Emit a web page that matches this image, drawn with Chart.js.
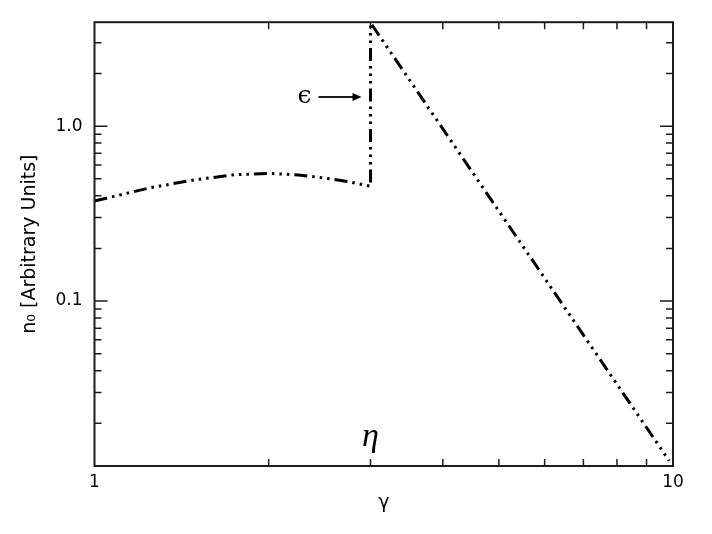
<!DOCTYPE html>
<html lang="en">
<head>
<meta charset="UTF-8">
<title>n0 vs gamma</title>
<script src="https://cdn.jsdelivr.net/npm/chart.js"></script>
<style>
  html, body { margin: 0; padding: 0; background: #fff; }
  #wrap { width: 712px; height: 534px; }
</style>
</head>
<body>
<div id="wrap"><canvas id="chart"></canvas></div>
<script>
// values (gamma, n0)
const gammaVals = [1, 1.25, 1.5, 1.75, 2, 2.25, 2.5, 2.75, 3, 3, 9.85];
const n0Vals = [0.373, 0.445, 0.495, 0.528, 0.537, 0.526, 0.505, 0.481, 0.453, 3.9, 0.0122];
const xTicks = [1, 2, 3, 4, 5, 6, 7, 8, 9, 10];
const yTicks = [0.02, 0.03, 0.04, 0.05, 0.06, 0.07, 0.08, 0.09,
                0.1, 0.2, 0.3, 0.4, 0.5, 0.6, 0.7, 0.8, 0.9, 1, 2, 3];
const xTickLabels = [1, 10];
const yTickLabels = [0.1, 1];
const xRange = [1, 10];
const yRange = [0.0114, 3.93];

const points = gammaVals.map((g, i) => ({ x: g, y: n0Vals[i] }));
const near = (a, b) => Math.abs(a - b) < 1e-9 * Math.max(1, Math.abs(b));
const majorTick = v => Math.abs(Math.log10(v) - Math.round(Math.log10(v))) < 1e-6;

// box, inward ticks on all four sides, and the two labels
const framePlugin = {
    id: 'framePlugin',
    afterDatasetsDraw(chart) {
        const { ctx, chartArea: a, scales: { x, y } } = chart;
        ctx.save();
        ctx.strokeStyle = '#1c1c1c';
        ctx.lineWidth = 1.5;
        ctx.beginPath();
        x.ticks.forEach(t => {
            if (t.value <= x.min || t.value >= x.max) return;
            const px = x.getPixelForValue(t.value);
            const len = majorTick(t.value) ? 13 : 7;
            ctx.moveTo(px, a.bottom); ctx.lineTo(px, a.bottom - len);
            ctx.moveTo(px, a.top); ctx.lineTo(px, a.top + len);
        });
        y.ticks.forEach(t => {
            if (t.value <= y.min || t.value >= y.max) return;
            const py = y.getPixelForValue(t.value);
            const len = majorTick(t.value) ? 13 : 7;
            ctx.moveTo(a.left, py); ctx.lineTo(a.left + len, py);
            ctx.moveTo(a.right, py); ctx.lineTo(a.right - len, py);
        });
        ctx.stroke();
        ctx.lineWidth = 2;
        ctx.strokeRect(a.left, a.top, a.right - a.left, a.bottom - a.top);

        // annotations near the jump at gamma = 3
        const x3 = x.getPixelForValue(3);
        ctx.fillStyle = '#000';
        ctx.textAlign = 'center';
        ctx.textBaseline = 'alphabetic';
        ctx.font = 'italic 34px "Liberation Serif"';
        ctx.fillText('η', x3, 446);

        const ay = y.getPixelForValue(1.47);
        ctx.font = '25px "DejaVu Serif"';
        ctx.fillText('ϵ', x3 - 66, ay + 6);
        ctx.lineWidth = 2;
        ctx.beginPath();
        ctx.moveTo(x3 - 52, ay);
        ctx.lineTo(x3 - 16, ay);
        ctx.stroke();
        ctx.beginPath();
        ctx.moveTo(x3 - 9, ay);
        ctx.lineTo(x3 - 18, ay - 4);
        ctx.lineTo(x3 - 18, ay + 4);
        ctx.closePath();
        ctx.fill();
        ctx.restore();
    }
};

const tickFont = { family: 'DejaVu Sans', size: 17 };
const titleFont = { family: 'DejaVu Sans', size: 19 };

new Chart(document.getElementById('chart'), {
    type: 'scatter',
    data: {
        datasets: [{
            data: points,
            showLine: true,
            borderColor: '#000',
            borderWidth: 3,
            borderDash: [13, 5, 2.5, 5, 2.5, 5, 2.5, 5],
            pointRadius: 0,
            fill: false,
            tension: 0
        }]
    },
    options: {
        responsive: true,
        maintainAspectRatio: false,
        animation: false,
        layout: { padding: { top: 22, right: 39, left: 0, bottom: 0 } },
        plugins: { legend: { display: false }, tooltip: { enabled: false } },
        scales: {
            x: {
                type: 'logarithmic',
                min: xRange[0],
                max: xRange[1],
                afterBuildTicks: s => { s.ticks = xTicks.map(v => ({ value: v })); },
                grid: { display: false, drawTicks: false },
                border: { display: false },
                ticks: {
                    autoSkip: false,
                    maxRotation: 0,
                    padding: 6,
                    color: '#000',
                    font: tickFont,
                    callback: v => xTickLabels.some(l => near(v, l)) ? String(v) : ''
                },
                title: {
                    display: true,
                    text: 'γ',
                    color: '#000',
                    font: titleFont,
                    padding: { top: 0, bottom: 20 }
                },
                afterFit: s => { s.height = 68; }
            },
            y: {
                type: 'logarithmic',
                min: yRange[0],
                max: yRange[1],
                afterBuildTicks: s => { s.ticks = yTicks.map(v => ({ value: v })); },
                grid: { display: false, drawTicks: false },
                border: { display: false },
                ticks: {
                    autoSkip: false,
                    padding: 12,
                    color: '#000',
                    font: tickFont,
                    callback: v => yTickLabels.some(l => near(v, l)) ? Number(v).toFixed(1) : ''
                },
                title: {
                    display: true,
                    text: 'n₀ [Arbitrary Units]',
                    color: '#000',
                    font: titleFont,
                    padding: { top: 19, bottom: 0 }
                },
                afterFit: s => { s.width = 94.5; }
            }
        }
    },
    plugins: [framePlugin]
});
</script>
</body>
</html>
